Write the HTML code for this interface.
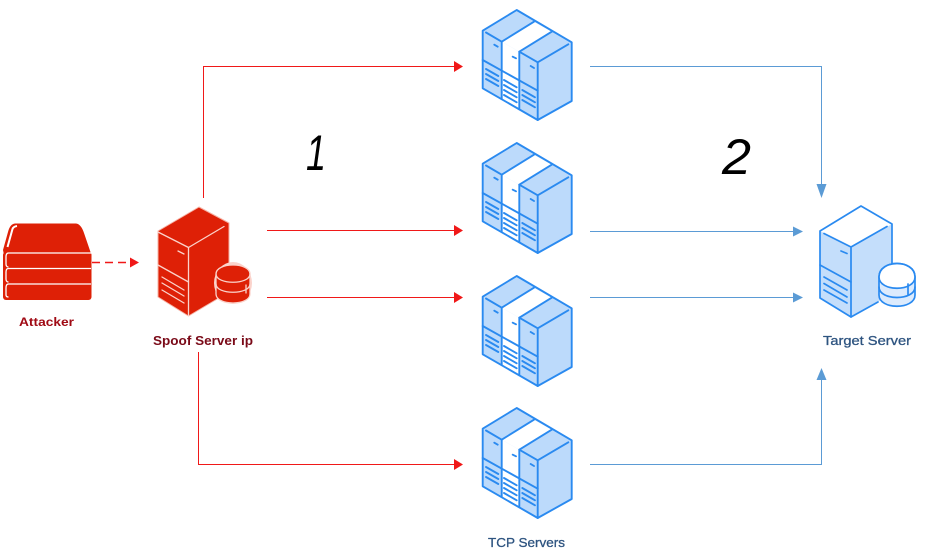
<!DOCTYPE html>
<html>
<head>
<meta charset="utf-8">
<style>
html,body{margin:0;padding:0;background:#fff;width:932px;height:554px;overflow:hidden}
svg{display:block}
text{font-family:"Liberation Sans",sans-serif}
</style>
</head>
<body>
<svg width="932" height="554" viewBox="0 0 932 554" xmlns="http://www.w3.org/2000/svg">
<defs>
<g id="rack" stroke-linecap="round" stroke-linejoin="round">
  <path d="M516.7 10L482.7 30.7V88.3L537.7 120L571.7 101V42.3Z" fill="#bcdafb"/>
  <path d="M534 21.700L551.700 31.700L519.300 51.700L501.700 41.700Z" fill="#fff"/>
  <path d="M501.700 41.700L519.300 51.700V109.300L501.700 99Z" fill="#fff"/>
  <g fill="none" stroke="#2a8af0" stroke-width="1.900">
    <path d="M516.700 10L482.700 30.700V88.300L537.700 120L571.700 101V42.300Z"/>
    <path d="M534 21.700L501.700 41.700M551.700 31.700L519.300 51.700"/>
    <path d="M486 32.500L501.700 41.700V99M519.300 51.700V109.300M519.300 51.700L537.700 62.300V120M537.700 62.300L568.300 44.300"/>
    <path d="M482.700 60L537.700 90.700"/>
    <path d="M486 69L498.300 76M486 74L498.300 81M486 79L498.300 86"/>
    <path d="M504 80L516.700 87.300M504 85L516.700 92.300M504 90L516.700 97.300M504 95L516.700 102.300"/>
    <path d="M522.300 90L535 97.300M522.300 95L535 102.300M522.300 100L535 107.300"/>
    <path d="M494.300 44.700L497.700 46.700M512.700 56.700L516 58.300M530.700 66L534 68"/>
  </g>
</g>
</defs>

<!-- Red connectors -->
<g fill="none" stroke="#f01818" stroke-width="1">
  <path d="M203.500 198V66.500H454"/>
  <path d="M267 230.500H454"/>
  <path d="M267 297.500H454"/>
  <path d="M198.500 352V464.500H454"/>
</g>
<path d="M92 262.500H130" fill="none" stroke="#f01818" stroke-width="1.400" stroke-dasharray="8 5"/>
<g fill="#f01818">
  <path d="M454 61L463 66.500L454 72Z"/>
  <path d="M454 225L463 230.500L454 236Z"/>
  <path d="M454 292L463 297.500L454 303Z"/>
  <path d="M454 459L463 464.500L454 470Z"/>
  <path d="M130 257.500L139 262.500L130 267.500Z"/>
</g>

<!-- Blue connectors -->
<g fill="none" stroke="#5b9bd5" stroke-width="1">
  <path d="M590 66.500H821.500V186"/>
  <path d="M590 231.500H794"/>
  <path d="M590 297.500H794"/>
  <path d="M590 464.500H821.500V378"/>
</g>
<g fill="#5b9bd5">
  <path d="M816.500 184H826.500L821.500 198Z"/>
  <path d="M793 226.500L803 231.500L793 236.500Z"/>
  <path d="M793 292.500L803 297.500L793 302.500Z"/>
  <path d="M816.500 380H826.500L821.500 368Z"/>
</g>

<!-- Racks -->
<use href="#rack"/>
<use href="#rack" y="133"/>
<use href="#rack" y="266"/>
<use href="#rack" y="398"/>

<!-- Attacker -->
<g>
  <path d="M4 255H91.500L84 233Q81 224 76 223.500H15Q10 224 8 232L3 250Z" fill="#de2006"/>
  <rect x="3" y="252" width="88.500" height="48" rx="3" fill="#de2006"/>
  <g fill="none" stroke="#fff" stroke-width="1.300">
    <path d="M91 253H8.500Q6 253 6 257V264Q6 267 8.500 267"/>
    <path d="M91 268.500H8.500Q6 268.500 6 272V279Q6 282 8.500 282"/>
    <path d="M91 284H8.500Q6 284 6 288V295Q6 297 8.500 297"/>
  </g>
  <path d="M7.500 247L12.500 229Q13.500 226.500 17 226" fill="none" stroke="#fff" stroke-width="2"/>
</g>

<!-- Spoof server -->
<g stroke-linecap="round" stroke-linejoin="round">
  <path d="M199 207L158 231V297L188.500 316L229 292V223Z" fill="#de2006" stroke="#f6b3a6" stroke-width="1"/>
  <g fill="none" stroke="#fbd3cb" stroke-width="1.300">
    <path d="M158 232L188.500 247.500V316M188.500 247.500L224 226.500"/>
    <path d="M158 265L188.500 282"/>
    <path d="M162 277L184 290M162 283L184 296M162 290L184 303M178 251L184 254"/>
  </g>
  <ellipse cx="233" cy="283" rx="19" ry="21" fill="#fbd3cb"/>
  <path d="M216 274C216 262 250 262 250 274V294C250 306 216 306 216 294Z" fill="#de2006" stroke="#fbd3cb" stroke-width="1.300"/>
  <path d="M216 274C216 285 250 285 250 274M216 284C216 295 250 295 250 284M246 285V293" fill="none" stroke="#fbd3cb" stroke-width="1.300"/>
</g>

<!-- Target server -->
<g stroke-linecap="round" stroke-linejoin="round">
  <path d="M861 206L820 231V298L851 317L892 294V224Z" fill="#c4defb"/>
  <path d="M861 206L820 231L851 247L892 224Z" fill="#fff"/>
  <g fill="none" stroke="#2a8af0" stroke-width="1.700">
    <path d="M892 268V224L861 206L820 231V298L851 317L878 302"/>
    <path d="M824 233.500L851 247V317M851 247L887 226.500"/>
    <path d="M820 265L851 282"/>
    <path d="M824 277L847 290M824 283.500L847 297M824 290L847 303M841 251L847 253.500"/>
  </g>
  <path d="M879 277C879 259 915 259 915 277V295C915 310 879 310 879 295Z" fill="#dcebfd" stroke="#2a8af0" stroke-width="1.700"/>
  <path d="M879 277C879 292 915 292 915 277C915 259 879 259 879 277Z" fill="#fff" stroke="#2a8af0" stroke-width="1.700"/>
  <path d="M879 287C879 301 915 301 915 287M908 284V295" fill="none" stroke="#2a8af0" stroke-width="1.700"/>
</g>

<!-- Digits -->
<text x="306" y="170" font-size="50" font-style="italic" fill="#000" textLength="20" lengthAdjust="spacingAndGlyphs">1</text>
<text x="722" y="174" font-size="50" font-style="italic" fill="#000" textLength="29" lengthAdjust="spacingAndGlyphs">2</text>

<!-- Labels -->
<text x="19" y="326" font-size="12" font-weight="bold" fill="#a00a14" textLength="55" lengthAdjust="spacingAndGlyphs">Attacker</text>
<text x="153" y="345" font-size="13" font-weight="bold" fill="#7a0a18" textLength="100" lengthAdjust="spacingAndGlyphs">Spoof Server ip</text>
<text x="823" y="345" font-size="13" fill="#2e5480" stroke="#2e5480" stroke-width=".3" textLength="88" lengthAdjust="spacingAndGlyphs">Target Server</text>
<text x="488" y="547" font-size="13" fill="#2e5480" stroke="#2e5480" stroke-width=".3" textLength="77" lengthAdjust="spacingAndGlyphs">TCP Servers</text>
</svg>
</body>
</html>
